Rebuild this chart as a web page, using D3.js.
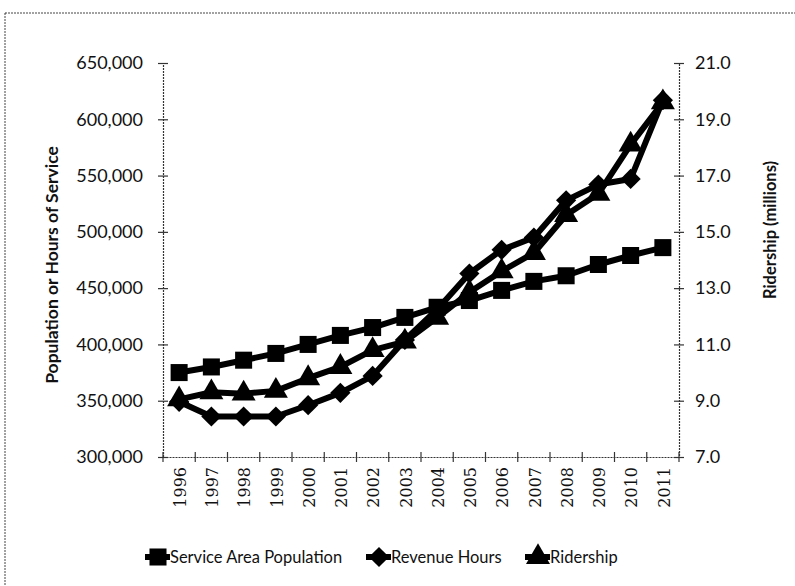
<!DOCTYPE html>
<html>
<head>
<meta charset="utf-8">
<script src="https://cdn.jsdelivr.net/npm/d3@7"></script>
<style>
  html, body { margin: 0; padding: 0; background: #fff; }
  svg { display: block; }
</style>
</head>
<body>
<svg id="chart" width="795" height="586"></svg>
<script>
// Years on the category axis
const years = ["1996","1997","1998","1999","2000","2001","2002","2003",
               "2004","2005","2006","2007","2008","2009","2010","2011"];

// Left axis series (people / hours)
const serviceAreaPopulation = [375000, 380000, 386000, 392000, 400000, 408000, 415000, 424000,
                               433000, 439000, 448000, 456000, 461000, 471000, 479000, 486000];
const revenueHours = [349000, 336000, 336000, 336000, 346000, 357000, 372000, 404000,
                      431000, 463000, 484000, 495000, 528000, 542000, 547000, 617000];

// Right axis series (millions of riders)
const ridership = [9.05, 9.3, 9.25, 9.35, 9.8, 10.2, 10.8, 11.1,
                   11.95, 12.85, 13.6, 14.25, 15.6, 16.35, 18.1, 19.6];

// Tick values
const leftTicks = [300000, 350000, 400000, 450000, 500000, 550000, 600000, 650000];
const rightTicks = [7, 9, 11, 13, 15, 17, 19, 21];

const svg = d3.select("#chart");
const sans = "Lato, 'Open Sans', sans-serif";

// Outer frame of the figure
svg.append("rect")
  .attr("x", 5).attr("y", 13).attr("width", 900).attr("height", 700)
  .attr("fill", "none").attr("stroke", "#444").attr("stroke-width", 1)
  .attr("stroke-dasharray", "2,1");

const plotLeft = 163, plotRight = 679, plotTop = 63, plotBottom = 457;

const x = d3.scaleBand().domain(years).range([plotLeft, plotRight]).padding(0);
const yL = d3.scaleLinear().domain([300000, 650000]).range([plotBottom, plotTop]);
const yR = d3.scaleLinear().domain([7, 21]).range([plotBottom, plotTop]);

const axisStroke = "#333";

// Left axis
const gL = svg.append("g").attr("transform", `translate(${plotLeft},0)`)
  .call(d3.axisLeft(yL).tickValues(leftTicks).tickFormat(d3.format(","))
        .tickSize(5).tickPadding(15));
gL.selectAll(".tick line").attr("x1", 5);
// Right axis
const gR = svg.append("g").attr("transform", `translate(${plotRight},0)`)
  .call(d3.axisRight(yR).tickValues(rightTicks).tickFormat(d3.format(".1f"))
        .tickSize(5).tickPadding(11));
gR.selectAll(".tick line").attr("x1", -5);
// Bottom axis: ticks sit on category boundaries
const gB = svg.append("g").attr("transform", `translate(0,${plotBottom})`)
  .call(d3.axisBottom(x).tickSize(0).tickPadding(0));
gB.selectAll(".tick text").remove();
gB.selectAll(".bound").data(years.concat(["end"])).join("line")
  .attr("class", "bound")
  .attr("x1", (d, i) => plotLeft + i * x.bandwidth())
  .attr("x2", (d, i) => plotLeft + i * x.bandwidth())
  .attr("y1", -5).attr("y2", 5);

[gL, gR, gB].forEach(g => {
  g.select(".domain").attr("stroke", axisStroke).attr("stroke-dasharray", "2,1").attr("stroke-width", 1.2);
  g.selectAll("line").attr("stroke", axisStroke).attr("stroke-width", 1.2);
  g.selectAll("text").attr("font-family", sans).attr("font-size", 18).attr("fill", "#111");
});

// Year labels, rotated
svg.append("g").selectAll("text").data(years).join("text")
  .attr("transform", d => `translate(${x(d) + x.bandwidth() / 2 + 1},${plotBottom + 10}) rotate(-90)`)
  .attr("dy", "0.36em")
  .attr("text-anchor", "end")
  .attr("font-family", "'DejaVu Serif', serif")
  .attr("font-size", 16)
  .attr("fill", "#111")
  .text(d => d);

// Axis titles
svg.append("text")
  .attr("transform", `translate(58,265) rotate(-90)`)
  .attr("text-anchor", "middle").attr("font-family", sans).attr("font-weight", "bold")
  .attr("font-size", 17.5).attr("fill", "#111").text("Population or Hours of Service");
svg.append("text")
  .attr("transform", `translate(776,230) rotate(-90)`)
  .attr("text-anchor", "middle").attr("font-family", sans).attr("font-weight", "bold")
  .attr("font-size", 16.5).attr("fill", "#111").text("Ridership (millions)");

// Marker shapes
const sym = {
  square: d3.symbol().type(d3.symbolSquare).size(290),
  diamond: d3.symbol().type(d3.symbolDiamond2).size(260),
  triangle: d3.symbol().type(d3.symbolTriangle).size(250)
};

const series = [
  { name: "Service Area Population", values: serviceAreaPopulation, y: yL, shape: "square" },
  { name: "Revenue Hours", values: revenueHours, y: yL, shape: "diamond" },
  { name: "Ridership", values: ridership, y: yR, shape: "triangle" }
];

const cx = d => x(d) + x.bandwidth() / 2;

series.forEach(s => {
  const pts = years.map((yr, i) => [cx(yr), s.y(s.values[i])]);
  svg.append("path")
    .attr("d", d3.line()(pts))
    .attr("fill", "none").attr("stroke", "#000").attr("stroke-width", 6)
    .attr("stroke-linejoin", "round");
  svg.append("g").selectAll("path").data(pts).join("path")
    .attr("transform", p => `translate(${p[0]},${p[1]})`)
    .attr("d", sym[s.shape]())
    .attr("fill", "#000");
});

// Legend
const legendY = 557;
const legendItems = [
  { s: series[0], x0: 145 },
  { s: series[1], x0: 366 },
  { s: series[2], x0: 525 }
];
legendItems.forEach(it => {
  const g = svg.append("g");
  g.append("line").attr("x1", it.x0).attr("x2", it.x0 + 25)
    .attr("y1", legendY).attr("y2", legendY)
    .attr("stroke", "#000").attr("stroke-width", 6);
  g.append("path").attr("transform", `translate(${it.x0 + 13},${legendY})`)
    .attr("d", sym[it.s.shape]()).attr("fill", "#000");
  g.append("text").attr("x", it.x0 + 25).attr("y", legendY + 6)
    .attr("font-family", sans).attr("font-size", 16.5).attr("fill", "#111")
    .text(it.s.name);
});
</script>
</body>
</html>
